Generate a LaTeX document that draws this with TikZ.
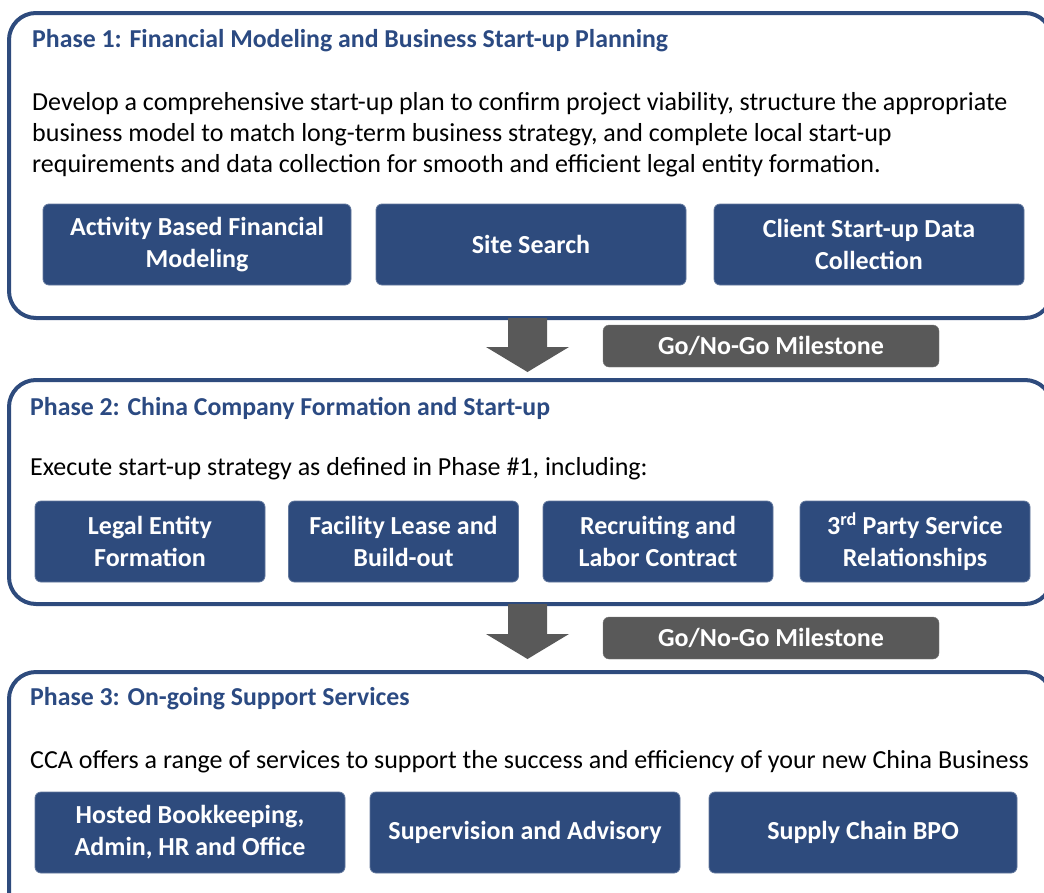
\documentclass[tikz,border=0pt]{standalone}
\usepackage{fontspec}
\setmainfont{Carlito}
\usetikzlibrary{positioning}
\definecolor{phaseblue}{HTML}{2E4B7D}
\definecolor{titleblue}{HTML}{2B4A82}
\definecolor{milegray}{HTML}{595959}
\begin{document}
\begin{tikzpicture}[x=1pt,y=-1pt,
  phase/.style={draw=phaseblue,line width=4pt,rounded corners=27pt},
  task/.style={fill=phaseblue,draw=phaseblue!75!white,line width=0.8pt,rounded corners=6pt,text=white,
    font=\fontsize{26}{32}\selectfont\bfseries,align=center,inner sep=0pt,minimum height=81pt},
  mile/.style={fill=milegray,draw=milegray!80!white,rounded corners=6pt,text=white,
    font=\fontsize{26}{30}\selectfont\bfseries,minimum width=336pt,minimum height=42pt,inner sep=0pt},
  title/.style={anchor=west,text=titleblue,font=\fontsize{25.8}{30}\selectfont\bfseries,inner sep=0pt},
  body/.style={anchor=west,font=\fontsize{26}{31}\selectfont,align=left,inner sep=0pt},
  gate/.style={fill=milegray}
]
          \useasboundingbox (0,0) rectangle (1044,892);
          \draw[phase] (9,13) rectangle (1052,318);
          \draw[phase] (9,380) rectangle (1052,604);
          \draw[phase] (9,672) rectangle (1052,930);
          \node[title] (t1) at (32,41) {Phase 1: Financial Modeling and Business Start-up Planning};
          \node[body] (b1) at (32,135) {Develop a comprehensive start-up plan to confirm project viability, structure the appropriate\\business model to match long-term business strategy, and complete local start-up\\requirements and data collection for smooth and efficient legal entity formation.};
          \node[task,minimum width=308pt] (fin) at (197,244.5) {Activity Based Financial\\Modeling};
          \node[task,minimum width=310pt] (site) at (531,244.5) {Site Search};
          \node[task,minimum width=310pt] (data) at (869,244.5) {Client Start-up Data\\Collection};
          \fill[gate] (508,318) -- (547,318) -- (547,347) -- (569,347) -- (527.5,372) -- (486,347) -- (508,347) -- cycle;
          \node[mile] (m1) at (771,346) {Go/No-Go Milestone};
          \node[title] (t2) at (30,408) {Phase 2: China Company Formation and Start-up};
          \node[body] (b2) at (30,469) {Execute start-up strategy as defined in Phase \#1, including:};
          \node[task,minimum width=230pt] (legal) at (150,541.5) {Legal Entity\\Formation};
          \node[task,minimum width=230pt] (lease) at (403.5,541.5) {Facility Lease and\\Build-out};
          \node[task,minimum width=230pt] (hire) at (658,541.5) {Recruiting and\\Labor Contract};
          \node[task,minimum width=230pt] (third) at (915,541.5) {3\textsuperscript{rd} Party Service\\Relationships};
          \fill[gate] (508,604) -- (547,604) -- (547,634) -- (569,634) -- (527.5,659) -- (486,634) -- (508,634) -- cycle;
          \node[mile] (m2) at (771,638) {Go/No-Go Milestone};
          \node[title] (t3) at (30,699) {Phase 3: On-going Support Services};
          \node[body] (b3) at (30,762) {CCA offers a range of services to support the success and efficiency of your new China Business};
          \node[task,minimum width=310pt] (books) at (190,832.5) {Hosted Bookkeeping,\\Admin, HR and Office};
          \node[task,minimum width=310pt] (advise) at (525,832.5) {Supervision and Advisory};
          \node[task,minimum width=308pt] (bpo) at (863,832.5) {Supply Chain BPO};
\end{tikzpicture}
\end{document}
